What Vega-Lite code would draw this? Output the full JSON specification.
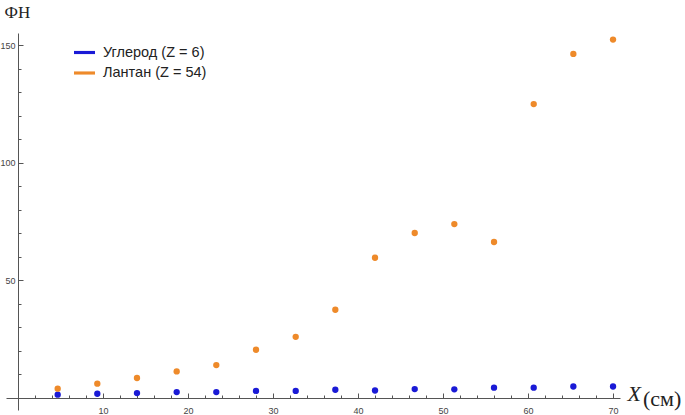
{
  "$schema": "https://vega.github.io/schema/vega-lite/v6.json",
  "width": 614,
  "height": 377,
  "autosize": {"type": "none"},
  "padding": {"left": 6, "top": 33, "right": 65, "bottom": 5},
  "background": "white",
  "config": {
    "view": {"stroke": null},
    "axis": {
      "grid": false,
      "domainColor": "#555555",
      "domainWidth": 1,
      "tickColor": "#555555",
      "labelFont": "Liberation Sans",
      "labelFontSize": 9,
      "labelColor": "#444444"
    }
  },
  "title": {
    "text": "(см)",
    "orient": "bottom",
    "anchor": "start",
    "frame": "group",
    "font": "Liberation Serif",
    "fontSize": 22,
    "fontWeight": "normal",
    "color": "#222222",
    "baseline": "alphabetic",
    "offset": 0,
    "dx": 637,
    "dy": -11
  },
  "data": {
    "values": [
      {"x": 4.67, "y": 1.4, "series": "Углерод (Z = 6)"},
      {"x": 9.33, "y": 1.8, "series": "Углерод (Z = 6)"},
      {"x": 14.0, "y": 2.1, "series": "Углерод (Z = 6)"},
      {"x": 18.67, "y": 2.5, "series": "Углерод (Z = 6)"},
      {"x": 23.33, "y": 2.5, "series": "Углерод (Z = 6)"},
      {"x": 28.0, "y": 3.0, "series": "Углерод (Z = 6)"},
      {"x": 32.67, "y": 3.0, "series": "Углерод (Z = 6)"},
      {"x": 37.33, "y": 3.5, "series": "Углерод (Z = 6)"},
      {"x": 42.0, "y": 3.2, "series": "Углерод (Z = 6)"},
      {"x": 46.67, "y": 3.8, "series": "Углерод (Z = 6)"},
      {"x": 51.33, "y": 3.7, "series": "Углерод (Z = 6)"},
      {"x": 56.0, "y": 4.4, "series": "Углерод (Z = 6)"},
      {"x": 60.67, "y": 4.4, "series": "Углерод (Z = 6)"},
      {"x": 65.33, "y": 4.9, "series": "Углерод (Z = 6)"},
      {"x": 70.0, "y": 4.9, "series": "Углерод (Z = 6)"},
      {"x": 4.67, "y": 3.95, "series": "Лантан (Z = 54)"},
      {"x": 9.33, "y": 6.1, "series": "Лантан (Z = 54)"},
      {"x": 14.0, "y": 8.5, "series": "Лантан (Z = 54)"},
      {"x": 18.67, "y": 11.3, "series": "Лантан (Z = 54)"},
      {"x": 23.33, "y": 14.0, "series": "Лантан (Z = 54)"},
      {"x": 28.0, "y": 20.5, "series": "Лантан (Z = 54)"},
      {"x": 32.67, "y": 26.0, "series": "Лантан (Z = 54)"},
      {"x": 37.33, "y": 37.5, "series": "Лантан (Z = 54)"},
      {"x": 42.0, "y": 59.6, "series": "Лантан (Z = 54)"},
      {"x": 46.67, "y": 70.1, "series": "Лантан (Z = 54)"},
      {"x": 51.33, "y": 73.9, "series": "Лантан (Z = 54)"},
      {"x": 56.0, "y": 66.3, "series": "Лантан (Z = 54)"},
      {"x": 60.67, "y": 124.9, "series": "Лантан (Z = 54)"},
      {"x": 65.33, "y": 146.2, "series": "Лантан (Z = 54)"},
      {"x": 70.0, "y": 152.3, "series": "Лантан (Z = 54)"}
    ]
  },
  "mark": {"type": "point", "filled": true, "shape": "circle", "size": 40, "opacity": 1},
  "encoding": {
    "x": {
      "field": "x",
      "type": "quantitative",
      "scale": {"domain": [-1.41, 70.82], "nice": false, "zero": false},
      "axis": {
        "offset": -12,
        "values": [2, 4, 6, 8, 10, 12, 14, 16, 18, 20, 22, 24, 26, 28, 30, 32, 34, 36, 38, 40, 42, 44, 46, 48, 50, 52, 54, 56, 58, 60, 62, 64, 66, 68, 70],
        "labelExpr": "datum.value % 10 === 0 ? datum.label : ''",
        "labelOverlap": false,
        "labelFlush": false,
        "tickSize": {"condition": {"test": "datum.value % 10 === 0", "value": -5}, "value": -3},
        "labelPadding": 13,
        "title": "X",
        "titleFont": "Liberation Serif",
        "titleFontSize": 22,
        "titleFontStyle": "italic",
        "titleFontWeight": "normal",
        "titleColor": "#222222",
        "titleX": 621,
        "titleY": 2,
        "titleAlign": "left",
        "titleBaseline": "alphabetic",
        "titleAngle": 0
      }
    },
    "y": {
      "field": "y",
      "type": "quantitative",
      "scale": {"domain": [-5.1, 155.1], "nice": false, "zero": false},
      "axis": {
        "offset": -12,
        "values": [10, 20, 30, 40, 50, 60, 70, 80, 90, 100, 110, 120, 130, 140, 150],
        "labelExpr": "datum.value % 50 === 0 ? datum.label : ''",
        "labelOverlap": false,
        "labelFlush": false,
        "tickSize": {"condition": {"test": "datum.value % 50 === 0", "value": -5}, "value": -3},
        "labelPadding": 8,
        "title": "ФН",
        "titleFont": "Liberation Serif",
        "titleFontSize": 17,
        "titleFontWeight": "normal",
        "titleColor": "#222222",
        "titleAngle": 0,
        "titleX": -14,
        "titleY": -20.5,
        "titleAlign": "left",
        "titleBaseline": "middle"
      }
    },
    "color": {
      "field": "series",
      "type": "nominal",
      "sort": null,
      "scale": {"domain": ["Углерод (Z = 6)", "Лантан (Z = 54)"], "range": ["#1a1ad6", "#ee8a2a"]},
      "legend": {
        "orient": "none",
        "legendX": 68,
        "legendY": 9,
        "title": null,
        "symbolType": "M-1,-0.15H1V0.15H-1Z",
        "symbolSize": 441,
        "symbolStrokeWidth": 0,
        "labelFont": "Liberation Sans",
        "labelFontSize": 14.5,
        "labelColor": "#222222",
        "labelOffset": 8,
        "rowPadding": 3.5,
        "padding": 0,
        "encode": {
          "symbols": {
            "fill": {"condition": {"test": "datum.value === 'Углерод (Z = 6)'", "value": "#14148c"}, "value": "#c48c4c"},
            "opacity": {"value": 1}
          }
        }
      }
    }
  }
}
